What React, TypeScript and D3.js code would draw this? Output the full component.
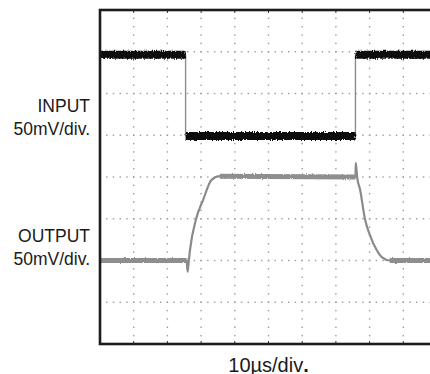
import React from 'react';
import * as d3 from 'd3';

const W = 430;
const H = 374;

// grid: 10 horizontal divisions, 8 vertical divisions (value measured in divisions from top)
const xDivisions = 10;
const yDivisions = 8;

// INPUT trace (time in div, level in div from top)
const inputT = [0, 2.54, 2.54, 7.58, 7.58, 10];
const inputV = [1.07, 1.07, 3.02, 3.02, 1.07, 1.07];

// OUTPUT trace
const outputT = [0, 2.57, 2.6, 2.63, 2.67, 2.85, 3.06, 3.31, 3.56, 7.58, 7.59, 7.63, 7.72, 7.86, 8.01, 8.21, 8.36, 8.6, 10];
const outputV = [6.0, 6.0, 6.27, 6.05, 5.75, 5.01, 4.55, 4.07, 3.98, 4.0, 3.66, 4.0, 4.31, 5.0, 5.39, 5.75, 5.92, 6.0, 6.0];

const leftLabels = [
  { text: 'INPUT', y: 111.5 },
  { text: '50mV/div.', y: 135 },
  { text: 'OUTPUT', y: 241.5 },
  { text: '50mV/div.', y: 264.5 },
];
const xAxisLabel = '10\u00B5s/div';

export default function App() {
  const x = d3.scaleLinear().domain([0, xDivisions]).range([100, 437]);
  const y = d3.scaleLinear().domain([0, yDivisions]).range([10, 344]);

  const xMajor = d3.range(1, xDivisions);
  const yMajor = d3.range(1, yDivisions);
  const xMinor = d3.range(0, xDivisions * 5 + 1).map((i) => i / 5);
  const yMinor = d3.range(0, yDivisions * 5 + 1).map((i) => i / 5);

  const inPts = inputT.map((t, i) => [t, inputV[i]] as [number, number]);
  const outPts = outputT.map((t, i) => [t, outputV[i]] as [number, number]);

  const lineStep = d3.line<[number, number]>().x((d) => x(d[0])).y((d) => y(d[1]));
  const outLine = d3
    .line<[number, number]>()
    .x((d) => x(d[0]))
    .y((d) => y(d[1]))
    .curve(d3.curveMonotoneX);

  const inFlat: [number, number][][] = [];
  const inEdges: [number, number][][] = [];
  for (let i = 0; i < inPts.length - 1; i++) {
    const a = inPts[i], b = inPts[i + 1];
    if (a[1] === b[1]) inFlat.push([a, b]);
    else inEdges.push([a, b]);
  }
  const outFlat: [number, number][][] = [];
  for (let i = 0; i < outPts.length - 1; i++) {
    const a = outPts[i], b = outPts[i + 1];
    if (Math.abs((b[1] - a[1]) / (b[0] - a[0])) < 0.2) outFlat.push([a, b]);
  }

  return (
    <svg width={W} height={H} style={{ position: 'absolute', left: 0, top: 0, background: '#fff' }}>
      <defs>
        <filter id="noise" filterUnits="userSpaceOnUse" x={0} y={0} width={W} height={H}>
          <feTurbulence type="fractalNoise" baseFrequency="0.9 0.35" numOctaves="2" seed="3" result="t" />
          <feDisplacementMap in="SourceGraphic" in2="t" scale="4" xChannelSelector="R" yChannelSelector="G" />
        </filter>
        <filter id="noise2" filterUnits="userSpaceOnUse" x={0} y={0} width={W} height={H}>
          <feTurbulence type="fractalNoise" baseFrequency="0.9 0.35" numOctaves="2" seed="7" result="t" />
          <feDisplacementMap in="SourceGraphic" in2="t" scale="2.5" xChannelSelector="R" yChannelSelector="G" />
        </filter>
        <clipPath id="plot">
          <rect x={x(0)} y={y(0)} width={x(xDivisions) - x(0)} height={y(yDivisions) - y(0)} />
        </clipPath>
      </defs>

      {/* grid dots */}
      <g fill="#9a9a9a">
        {yMajor.map((v) =>
          xMinor.map((t) => (
            <rect key={`h${v}-${t}`} x={x(t) - 0.7} y={y(v) - 0.7} width={1.4} height={1.4} />
          ))
        )}
        {xMajor.map((t) =>
          yMinor.map((v) => (
            <rect key={`v${t}-${v}`} x={x(t) - 0.7} y={y(v) - 0.7} width={1.4} height={1.4} />
          ))
        )}
      </g>

      <g clipPath="url(#plot)">
        {/* input edges */}
        {inEdges.map((seg, i) => (
          <path key={`ie${i}`} d={lineStep(seg) || ''} stroke="#8c8c8c" strokeWidth={1.4} fill="none" />
        ))}
        {/* output trace */}
        <path d={outLine(outPts) || ''} stroke="#8a8a8a" strokeWidth={2.2} fill="none" />
        {outFlat.map((seg, i) => (
          <path key={`of${i}`} d={lineStep(seg) || ''} stroke="#8e8e8e" strokeWidth={5} fill="none" filter="url(#noise2)" />
        ))}
        {/* input flat levels */}
        {inFlat.map((seg, i) => (
          <path key={`if${i}`} d={lineStep(seg) || ''} stroke="#0a0a0a" strokeWidth={8} fill="none" filter="url(#noise)" />
        ))}
      </g>

      {/* border ticks */}
      <g stroke="#333" strokeWidth={1}>
        {xMajor.map((t) => (
          <line key={`tt${t}`} x1={x(t)} x2={x(t)} y1={y(0)} y2={y(0) + 3} />
        ))}
        {xMajor.map((t) => (
          <line key={`tb${t}`} x1={x(t)} x2={x(t)} y1={y(yDivisions)} y2={y(yDivisions) - 3} />
        ))}
      </g>

      {/* frame */}
      <rect
        x={x(0)}
        y={y(0)}
        width={x(xDivisions) - x(0)}
        height={y(yDivisions) - y(0)}
        fill="none"
        stroke="#1c1c1c"
        strokeWidth={2.6}
      />

      {/* labels */}
      <g fontFamily="Liberation Sans, Arial, sans-serif" fontSize={17.5} fill="#1a1a1a" textAnchor="end">
        {leftLabels.map((l, i) => (
          <text key={i} x={90} y={l.y}>
            {l.text}
          </text>
        ))}
      </g>
      <text
        x={(x(0) + x(xDivisions)) / 2}
        y={371.5}
        textAnchor="middle"
        fontFamily="Liberation Sans, Arial, sans-serif"
        fontSize={20}
        fill="#1a1a1a"
      >
        {xAxisLabel}
        <tspan fontWeight="bold">.</tspan>
      </text>
    </svg>
  );
}
